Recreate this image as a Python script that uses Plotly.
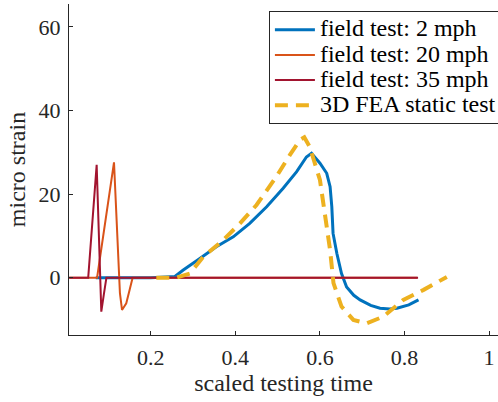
import plotly.graph_objects as go

# Strain histories: field tests at three speeds and the static FEA result
t_2mph = [0.07, 0.15, 0.20, 0.257, 0.276, 0.316, 0.355, 0.395, 0.434, 0.474, 0.513,
          0.545, 0.568, 0.580, 0.600, 0.616, 0.624, 0.628, 0.631, 0.640, 0.651,
          0.663, 0.68, 0.695, 0.72, 0.742, 0.765, 0.782, 0.81, 0.833]
s_2mph = [0.0, 0.0, 0.0, 0.3, 1.8, 4.6, 7.4, 9.8, 13.0, 17.0, 21.4,
          25.4, 28.9, 29.8, 27.4, 25.0, 21.8, 17.0, 10.6, 5.8, 1.0,
          -2.2, -4.2, -5.3, -6.6, -7.3, -7.5, -7.3, -6.5, -5.3]

t_20mph = [0.007, 0.073, 0.113, 0.127, 0.132, 0.142, 0.150, 0.157, 0.20, 0.83]
s_20mph = [0.0, 0.0, 27.6, -3.7, -7.7, -6.1, -2.9, 0.0, 0.0, 0.0]

t_35mph = [0.007, 0.052, 0.072, 0.083, 0.089, 0.095, 0.30, 0.55, 0.832]
s_35mph = [0.0, 0.0, 27.0, -8.1, -4.0, 0.0, 0.0, 0.0, 0.0]

t_fea = [0.213, 0.26, 0.292, 0.324, 0.371, 0.411, 0.45, 0.497, 0.529, 0.553, 0.563,
         0.576, 0.60, 0.612, 0.624, 0.632, 0.651, 0.679, 0.71, 0.75, 0.797, 0.845, 0.90]
s_fea = [0.0, 0.0, 1.0, 5.0, 9.0, 13.0, 17.4, 24.2, 29.4, 33.0, 33.6,
         31.3, 23.4, 14.6, 6.6, -1.3, -6.9, -10.1, -10.9, -9.3, -5.3, -2.9, 0.2]

series_names = ["field test: 2 mph", "field test: 20 mph",
                "field test: 35 mph", "3D FEA static test"]
x_ticks = [0.2, 0.4, 0.6, 0.8, 1.0]
x_tick_text = ["0.2", "0.4", "0.6", "0.8", "1"]
y_ticks = [0, 20, 40, 60]

FONT = "Liberation Serif"
INK = "#262626"
TICK_SIZE = 22
TITLE_SIZE = 24
LEGEND_SIZE = 24


def legend_label(text):
    return "<span style='font-size:%dpx'>%s</span>" % (LEGEND_SIZE, text)


fig = go.Figure()
fig.add_trace(go.Scatter(x=t_2mph, y=s_2mph, mode="lines", name=legend_label(series_names[0]),
                         line=dict(color="#0072BD", width=3)))
fig.add_trace(go.Scatter(x=t_20mph, y=s_20mph, mode="lines", name=legend_label(series_names[1]),
                         line=dict(color="#D95319", width=2)))
fig.add_trace(go.Scatter(x=t_35mph, y=s_35mph, mode="lines", name=legend_label(series_names[2]),
                         line=dict(color="#A2142F", width=2)))
fig.add_trace(go.Scatter(x=t_fea, y=s_fea, mode="lines", name=legend_label(series_names[3]),
                         line=dict(color="#EDB120", width=4, dash="13px,8px")))


def axis_style():
    return dict(
        showline=True, linecolor=INK, linewidth=1, mirror=False,
        ticks="inside", ticklen=4, tickcolor=INK, tickwidth=1,
        showgrid=False, zeroline=False,
        tickfont=dict(family=FONT, size=TICK_SIZE, color=INK),
    )


fig.update_layout(
    width=498, height=402,
    margin=dict(l=69, r=0, t=4, b=67, autoexpand=False),
    paper_bgcolor="white", plot_bgcolor="white",
    font=dict(family=FONT, color=INK, size=TICK_SIZE),
    showlegend=True,
    legend=dict(
        x=0.466, y=0.978, xanchor="left", yanchor="top",
        bgcolor="white", bordercolor=INK, borderwidth=1,
        font=dict(family=FONT, size=17, color="black"),
        itemwidth=40, tracegroupgap=0,
    ),
    xaxis=dict(
        range=[0.0066, 1.021], tickvals=x_ticks, ticktext=x_tick_text,
        title=dict(text="scaled testing time", font=dict(family=FONT, size=TITLE_SIZE, color=INK),
                   standoff=1),
        ticklabelstandoff=3,
        **axis_style(),
    ),
    yaxis=dict(
        range=[-13.7, 65.5], tickvals=y_ticks,
        title=dict(text="micro strain", font=dict(family=FONT, size=TITLE_SIZE, color=INK),
                   standoff=6),
        ticklabelstandoff=3,
        **axis_style(),
    ),
)

fig.write_html("out.html")
